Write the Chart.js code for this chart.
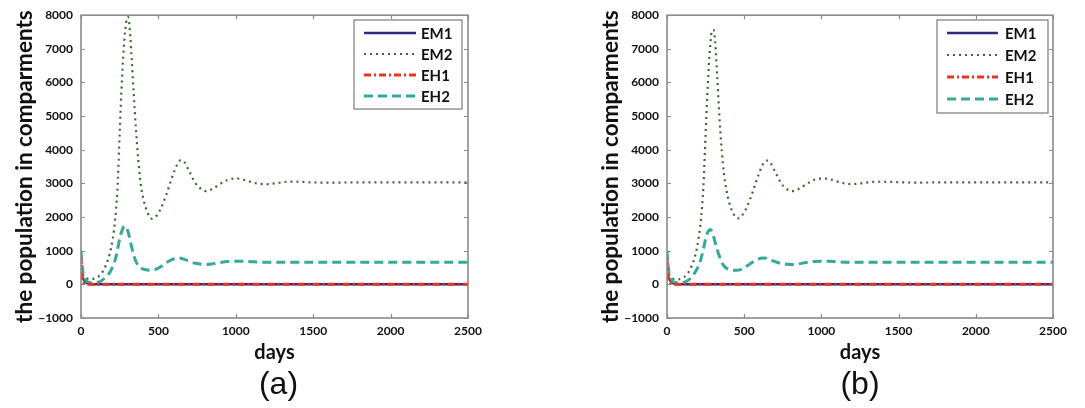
<!DOCTYPE html>
<html>
<head>
<meta charset="utf-8">
<script src="https://cdn.jsdelivr.net/npm/chart.js@4.4.1/dist/chart.umd.min.js"></script>
<style>
  html, body { margin: 0; padding: 0; background: #ffffff; }
  body { width: 1085px; height: 408px; position: relative; overflow: hidden; }
  canvas { position: absolute; top: 0; }
  #cA { left: 0; }
  #cB { left: 540px; }
</style>
</head>
<body>
<canvas id="cA" width="540" height="408"></canvas>
<canvas id="cB" width="545" height="408"></canvas>
<script>
// ---------------- data ----------------
const seriesLabels = ['EM1', 'EM2', 'EH1', 'EH2'];
const panelLabels = ['(a)', '(b)'];
const xTitle = 'days';
const yTitle = 'the population in comparments';
const xTicks = [0, 500, 1000, 1500, 2000, 2500];
const yTicks = [-1000, 0, 1000, 2000, 3000, 4000, 5000, 6000, 7000, 8000];

// early-time grid for the fast-decaying compartments
const earlyDays = [0, 5, 10, 20, 35, 50, 70, 100, 2500];
const em1A = [300, 250, 200, 120, 50, 15, 3, 0, 0];
const eh1A = [800, 300, 120, 40, 10, 2, 0, 0, 0];
const em1B = [300, 250, 200, 120, 50, 15, 3, 0, 0];
const eh1B = [780, 300, 120, 40, 10, 2, 0, 0, 0];

// common time grid for EM2 / EH2
const days = [0, 5, 15, 30, 50, 75, 100, 130, 160, 185,
  205, 220, 235, 250, 265, 280, 292, 302, 312, 325,
  340, 355, 370, 385, 405, 430, 460, 490, 520, 550,
  590, 620, 645, 670, 700, 740, 780, 810, 850, 900,
  950, 1000, 1050, 1100, 1150, 1200, 1250, 1300, 1350, 1400,
  1500, 1600, 1800, 2000, 2250, 2500];

const em2A = [480, 380, 260, 190, 165, 160, 200, 310, 560, 900,
  1350, 1900, 2800, 4500, 6150, 7250, 7800, 7950, 7750, 6900,
  5700, 4600, 3700, 3000, 2500, 2130, 1950, 2050, 2300, 2650,
  3200, 3550, 3690, 3620, 3350, 3000, 2820, 2770, 2840, 2990,
  3110, 3150, 3110, 3040, 2990, 2975, 3000, 3035, 3055, 3050,
  3030, 3025, 3030, 3030, 3030, 3030];

const eh2A = [1000, 650, 300, 130, 60, 45, 55, 100, 220, 350,
  530, 720, 1000, 1370, 1600, 1730, 1710, 1590, 1420, 1150,
  880, 680, 560, 490, 450, 425, 420, 460, 540, 640,
  740, 785, 775, 740, 680, 625, 595, 590, 610, 650,
  680, 690, 685, 672, 660, 655, 655, 658, 660, 660,
  658, 656, 655, 655, 655, 655];

const em2B = [480, 380, 260, 190, 160, 150, 190, 300, 550, 900,
  1380, 1950, 2850, 4450, 6000, 7100, 7550, 7560, 7200, 6200,
  4950, 3950, 3250, 2800, 2400, 2100, 1960, 2070, 2330, 2680,
  3220, 3560, 3680, 3610, 3350, 3000, 2820, 2770, 2830, 2970,
  3100, 3145, 3130, 3060, 3000, 2980, 3000, 3030, 3050, 3050,
  3035, 3025, 3030, 3030, 3030, 3030];

const eh2B = [1000, 650, 300, 130, 60, 45, 55, 100, 220, 380,
  560, 760, 1030, 1350, 1560, 1630, 1560, 1420, 1250, 1030,
  830, 650, 540, 480, 440, 420, 420, 460, 550, 650,
  750, 785, 775, 735, 675, 620, 595, 590, 610, 650,
  680, 690, 685, 672, 660, 655, 655, 658, 660, 660,
  658, 656, 655, 655, 655, 655];

// ---------------- helpers ----------------
function pts(xs, ys) { return xs.map((x, i) => ({ x: x, y: ys[i] })); }
function fmt(v) { return v < 0 ? '\u2212' + Math.abs(v) : String(v); }

const BOLD = 'Lato, "Open Sans", sans-serif';

const frame = {
  id: 'frame',
  beforeDatasetsDraw(chart) {
    const { ctx, chartArea: a, scales } = chart;
    ctx.save();
    ctx.strokeStyle = '#8a8a8a';
    ctx.lineWidth = 1.2;
    const t = 4;
    ctx.beginPath();
    scales.x.ticks.forEach(tk => {
      const p = Math.round(scales.x.getPixelForValue(tk.value)) + 0.5;
      ctx.moveTo(p, a.bottom); ctx.lineTo(p, a.bottom - t);
      ctx.moveTo(p, a.top); ctx.lineTo(p, a.top + t);
    });
    scales.y.ticks.forEach(tk => {
      const p = Math.round(scales.y.getPixelForValue(tk.value)) + 0.5;
      ctx.moveTo(a.left, p); ctx.lineTo(a.left + t, p);
      ctx.moveTo(a.right, p); ctx.lineTo(a.right - t, p);
    });
    ctx.stroke();
    ctx.restore();
  },
  afterDraw(chart, args, o) {
    const { ctx, chartArea: a } = chart;
    ctx.save();
    // axis box
    ctx.strokeStyle = '#8a8a8a';
    ctx.lineWidth = 1.6;
    ctx.strokeRect(a.left, a.top, a.right - a.left, a.bottom - a.top);
    // legend
    const L = o.legend;
    ctx.fillStyle = '#ffffff';
    ctx.fillRect(L.x, L.y, L.w, L.h);
    ctx.strokeStyle = '#7a7a7a';
    ctx.lineWidth = 1.2;
    ctx.strokeRect(L.x, L.y, L.w, L.h);
    chart.data.datasets.forEach((ds, i) => {
      const y = L.y + L.first + i * L.row;
      ctx.save();
      ctx.strokeStyle = ds.borderColor;
      ctx.lineWidth = ds.borderWidth;
      ctx.setLineDash(ds.borderDash || []);
      ctx.beginPath();
      ctx.moveTo(L.lx0, y); ctx.lineTo(L.lx1, y);
      ctx.stroke();
      ctx.restore();
      ctx.fillStyle = '#111111';
      ctx.font = 'bold 15px ' + BOLD;
      ctx.textBaseline = 'middle';
      ctx.textAlign = 'left';
      ctx.fillText(ds.label, L.tx, y + 1);
    });
    // panel label
    ctx.fillStyle = '#111111';
    ctx.font = '32px "Liberation Sans", Arial, sans-serif';
    ctx.textAlign = 'center';
    ctx.textBaseline = 'middle';
    ctx.fillText(o.panel, (a.left + a.right) / 2 + o.panelDx, o.panelY);
    ctx.restore();
  }
};

function makeChart(id, em1, em2, eh1, eh2, cfg) {
  const styles = [
    { color: '#2f2c7c', width: 2.5, dash: [], order: 4 },
    { color: '#386b2d', width: 2.2, dash: [2, 4], order: 3 },
    { color: '#ea3323', width: 3, dash: [7, 3, 2, 3], order: 1 },
    { color: '#35a99a', width: 3, dash: [9, 5], order: 2 }
  ];
  const dataList = [pts(earlyDays, em1), pts(days, em2), pts(earlyDays, eh1), pts(days, eh2)];
  const datasets = dataList.map((d, i) => ({
    label: seriesLabels[i],
    data: d,
    borderColor: styles[i].color,
    backgroundColor: styles[i].color,
    borderWidth: styles[i].width,
    borderDash: styles[i].dash,
    order: styles[i].order,
    pointRadius: 0,
    fill: false,
    cubicInterpolationMode: 'monotone',
    borderCapStyle: 'butt'
  }));
  return new Chart(document.getElementById(id), {
    type: 'line',
    data: { datasets },
    options: {
      responsive: false,
      animation: false,
      events: [],
      layout: { padding: { left: cfg.padLeft, right: cfg.padRight, top: 14, bottom: 40 } },
      plugins: {
        legend: { display: false },
        tooltip: { enabled: false },
        frame: { legend: cfg.legend, panel: cfg.panel, panelDx: cfg.panelDx, panelY: 385 }
      },
      scales: {
        x: {
          type: 'linear', min: 0, max: 2500,
          afterBuildTicks: s => { s.ticks = xTicks.map(v => ({ value: v })); },
          afterFit: s => { s.height = 50; },
          grid: { display: false, drawTicks: false },
          border: { display: false },
          ticks: { padding: 6, color: '#111', font: { family: BOLD, size: 12, weight: 'bold' }, callback: v => fmt(v), maxRotation: 0 },
          title: { display: true, text: xTitle, color: '#111', font: { family: BOLD, size: 20, weight: 'bold' }, padding: { top: 0, bottom: 3 } }
        },
        y: {
          type: 'linear', min: -1000, max: 8000,
          afterBuildTicks: s => { s.ticks = yTicks.map(v => ({ value: v })); },
          afterFit: s => { s.width = 81; },
          grid: { display: false, drawTicks: false },
          border: { display: false },
          ticks: { padding: 8, color: '#111', font: { family: BOLD, size: 12, weight: 'bold' }, callback: v => fmt(v) },
          title: { display: true, text: yTitle, color: '#111', font: { family: BOLD, size: 22.5, weight: 'bold' }, padding: { top: 11, bottom: 0 } }
        }
      }
    },
    plugins: [frame]
  });
}

makeChart('cA', em1A, em2A, eh1A, eh2A, {
  padLeft: 0, padRight: 72, panel: panelLabels[0], panelDx: 4,
  legend: { x: 354, y: 20, w: 108, h: 89, first: 13, row: 21, lx0: 364, lx1: 416, tx: 421 }
});
makeChart('cB', em1B, em2B, eh1B, eh2B, {
  padLeft: 46, padRight: 32, panel: panelLabels[1], panelDx: 0,
  legend: { x: 397, y: 20, w: 111, h: 93, first: 13, row: 22, lx0: 407, lx1: 458, tx: 465 }
});
</script>
</body>
</html>
